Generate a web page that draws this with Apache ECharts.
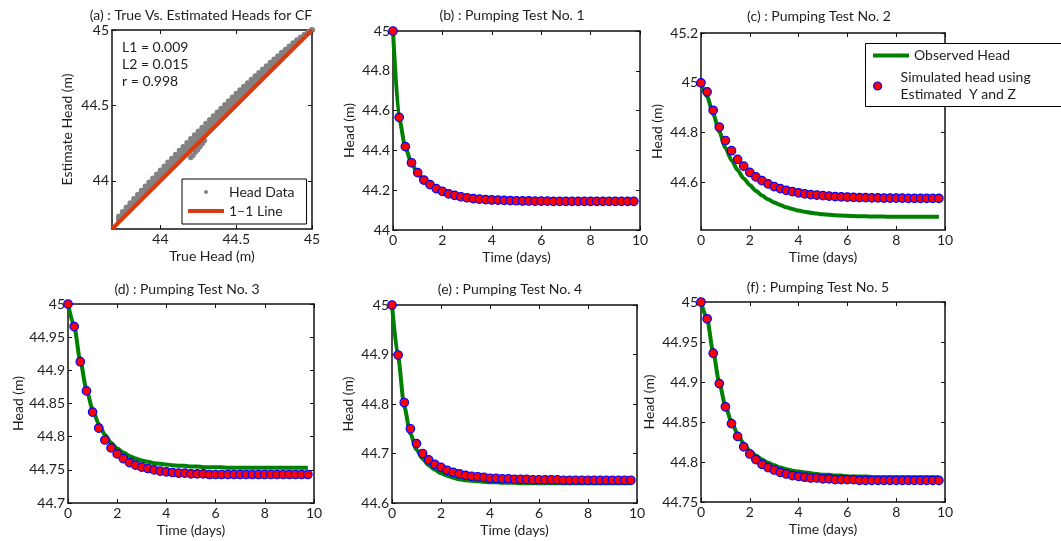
<!DOCTYPE html>
<html><head><meta charset="utf-8">
<script src="https://cdn.jsdelivr.net/npm/echarts@6/dist/echarts.min.js"></script>
<style>html,body{margin:0;padding:0;background:#fff}#c{width:1061px;height:541px}</style>
</head><body><div id="c"></div>
<script>
// ---------- data ----------
const timeDays = [0,0.25,0.5,0.75,1,1.25,1.5,1.75,2,2.25,2.5,2.75,3,3.25,3.5,3.75,4,4.25,4.5,4.75,
                  5,5.25,5.5,5.75,6,6.25,6.5,6.75,7,7.25,7.5,7.75,8,8.25,8.5,8.75,9,9.25,9.5,9.75];
const timeTicks = [0,2,4,6,8,10];

const test1Observed = [45.0,44.56,44.415,44.335,44.285,44.249,44.225,44.206,44.192,44.18,
  44.172,44.165,44.16,44.156,44.153,44.151,44.149,44.148,44.147,44.146,
  44.145,44.145,44.144,44.144,44.143,44.143,44.143,44.143,44.143,44.143,
  44.143,44.143,44.143,44.143,44.143,44.143,44.143,44.143,44.143,44.143];
const test1Simulated = [45.0,44.566,44.419,44.338,44.288,44.251,44.228,44.208,44.194,44.182,
  44.174,44.167,44.162,44.158,44.155,44.153,44.151,44.15,44.149,44.148,
  44.147,44.146,44.146,44.145,44.145,44.145,44.144,44.144,44.144,44.144,
  44.144,44.144,44.144,44.144,44.144,44.144,44.144,44.144,44.144,44.144];

const test2Observed = [45.0,44.945,44.875,44.805,44.74,44.69,44.65,44.617,44.59,44.567,
  44.548,44.533,44.52,44.51,44.501,44.494,44.488,44.483,44.479,44.476,
  44.473,44.471,44.469,44.468,44.467,44.466,44.465,44.465,44.464,44.464,
  44.464,44.463,44.463,44.463,44.463,44.463,44.463,44.463,44.463,44.463];
const test2Simulated = [45.0,44.964,44.89,44.823,44.769,44.728,44.693,44.666,44.641,44.623,
  44.608,44.595,44.584,44.576,44.569,44.564,44.559,44.555,44.552,44.55,
  44.548,44.546,44.544,44.543,44.542,44.541,44.54,44.54,44.539,44.539,
  44.538,44.538,44.538,44.538,44.537,44.537,44.537,44.537,44.537,44.537];

const test3Observed = [45.0,44.967,44.914,44.871,44.841,44.819,44.803,44.791,44.782,44.776,
  44.771,44.767,44.764,44.762,44.76,44.759,44.758,44.757,44.756,44.756,
  44.755,44.755,44.754,44.754,44.754,44.754,44.753,44.753,44.753,44.753,
  44.753,44.753,44.753,44.753,44.753,44.753,44.753,44.753,44.753,44.753];
const test3Simulated = [45.0,44.966,44.913,44.869,44.837,44.813,44.795,44.783,44.774,44.767,
  44.761,44.757,44.754,44.752,44.75,44.748,44.747,44.746,44.745,44.745,
  44.744,44.744,44.744,44.743,44.743,44.743,44.743,44.743,44.743,44.743,
  44.743,44.743,44.743,44.743,44.743,44.743,44.743,44.743,44.743,44.743];

const test4Observed = [45.0,44.895,44.795,44.74,44.708,44.689,44.676,44.667,44.66,44.655,
  44.651,44.648,44.646,44.645,44.644,44.643,44.642,44.642,44.641,44.641,
  44.641,44.64,44.64,44.64,44.64,44.64,44.64,44.64,44.64,44.64,
  44.64,44.64,44.64,44.64,44.64,44.64,44.64,44.64,44.64,44.64];
const test4Simulated = [45.0,44.899,44.803,44.75,44.72,44.70,44.687,44.678,44.672,44.666,
  44.662,44.659,44.656,44.654,44.653,44.652,44.65,44.65,44.649,44.649,
  44.648,44.648,44.648,44.647,44.647,44.647,44.647,44.647,44.646,44.646,
  44.646,44.646,44.646,44.646,44.646,44.646,44.646,44.646,44.646,44.646];

const test5Observed = [45.0,44.979,44.937,44.899,44.87,44.85,44.835,44.823,44.814,44.808,
  44.803,44.799,44.796,44.793,44.791,44.789,44.788,44.787,44.786,44.785,
  44.784,44.784,44.783,44.783,44.782,44.782,44.782,44.782,44.781,44.781,
  44.781,44.781,44.781,44.781,44.781,44.781,44.781,44.781,44.781,44.781];
const test5Simulated = [45.0,44.979,44.936,44.898,44.869,44.848,44.832,44.819,44.81,44.803,
  44.797,44.793,44.79,44.787,44.785,44.783,44.782,44.781,44.78,44.78,
  44.779,44.779,44.778,44.778,44.778,44.778,44.777,44.777,44.777,44.777,
  44.777,44.777,44.777,44.777,44.777,44.777,44.777,44.777,44.777,44.777];

// panel (a): true vs estimated heads (band of points)
const headTrue = [43.725,43.75,43.775,43.8,43.825,43.85,43.875,43.9,43.925,43.95,43.975,
  44.0,44.025,44.05,44.075,44.1,44.125,44.15,44.175,44.2,44.225,44.25,44.275,44.3,44.325,
  44.35,44.375,44.4,44.425,44.45,44.475,44.5,44.525,44.55,44.575,44.6,44.625,44.65,44.675,
  44.7,44.725,44.75,44.775,44.8,44.825,44.85,44.875,44.9,44.925,44.95,44.975,45.0];
const headEstUpper = [43.765,43.795,43.825,43.853,43.881,43.909,43.936,43.963,43.99,44.016,44.043,
  44.07,44.096,44.122,44.148,44.174,44.2,44.226,44.252,44.278,44.303,44.329,44.354,44.38,44.405,
  44.43,44.455,44.48,44.505,44.529,44.554,44.578,44.602,44.626,44.649,44.672,44.695,44.717,44.739,
  44.762,44.784,44.806,44.828,44.85,44.871,44.892,44.913,44.933,44.952,44.97,44.986,45.0];
const headEstMid = [43.751,43.78,43.808,43.835,43.862,43.889,43.915,43.942,43.968,43.994,44.02,
  44.046,44.072,44.098,44.123,44.149,44.175,44.2,44.226,44.251,44.276,44.302,44.327,44.353,44.378,
  44.403,44.428,44.453,44.478,44.502,44.527,44.551,44.576,44.6,44.624,44.648,44.671,44.694,44.717,
  44.741,44.764,44.787,44.81,44.833,44.855,44.878,44.9,44.922,44.943,44.963,44.982,45.0];
const headEstLow = [43.738,43.765,43.792,43.817,43.843,43.869,43.895,43.921,43.946,43.972,43.997,
  44.023,44.048,44.074,44.099,44.124,44.15,44.175,44.2,44.226,44.251,44.276,44.301,44.326,44.351,
  44.376,44.401,44.426,44.451,44.476,44.501,44.526,44.55,44.575,44.599,44.624,44.648,44.672,44.696,
  44.72,44.744,44.768,44.792,44.817,44.84,44.864,44.888,44.911,44.934,44.957,44.979,45.0];
const branchTrue = [44.2,44.215,44.23,44.245,44.26,44.275,44.29];
const branchEst  = [44.155,44.17,44.19,44.205,44.225,44.245,44.265];
const oneToOneLine = [43.68, 45];
const headTicks = [44, 44.5, 45];
const statsText = ['L1 = 0.009', 'L2 = 0.015', 'r = 0.998'];

const titles = ['(a) : True Vs. Estimated Heads for CF','(b) : Pumping Test No. 1','(c) : Pumping Test No. 2',
                '(d) : Pumping Test No. 3','(e) : Pumping Test No. 4','(f) : Pumping Test No. 5'];
const OBS = 'Observed Head';
const SIM = 'Simulated head using\nEstimated  Y and Z';

// ---------- layout / styling ----------
const FONT = 'Lato, "Open Sans", sans-serif';
const TXT = '#1e1e1e';
const LINE = '#111';
const FS = 14;
const panels = [
  {grid:{left:112, top:30, width:200, height:199}, title:[201,15]},
  {grid:{left:393, top:31, width:247, height:199}, title:[512,15], y:[44,45,0.2], obs:test1Observed, sim:test1Simulated, gap:37},
  {grid:{left:701, top:33, width:244, height:197}, title:[819,16], y:[44.41,45.2], yCustom:[44.6,44.8,45,45.2], obs:test2Observed, sim:test2Simulated, gap:37},
  {grid:{left:68, top:304, width:246, height:199}, title:[187,289], y:[44.7,45,0.05], obs:test3Observed, sim:test3Simulated, gap:43},
  {grid:{left:392, top:305, width:245, height:198}, title:[510,289], y:[44.6,45,0.1], obs:test4Observed, sim:test4Simulated, gap:37},
  {grid:{left:701, top:302, width:244, height:200}, title:[818,287], y:[44.75,45,0.05], obs:test5Observed, sim:test5Simulated, gap:45}
];

function axisBase(gridIndex, position, showLabel) {
  return {
    type:'value', gridIndex, position,
    axisLine:{show:true, onZero:false, lineStyle:{color:LINE, width:1.5}},
    axisTick:{show:true, inside:true, length:4, lineStyle:{color:LINE, width:1}},
    splitLine:{show:false},
    axisLabel:{show:showLabel, color:TXT, fontFamily:FONT, fontSize:FS, margin:3},
    nameTextStyle:{color:TXT, fontFamily:FONT, fontSize:FS},
    nameLocation:'middle'
  };
}

const grids = [], xAxes = [], yAxes = [], series = [], graphics = [];
panels.forEach((p, i) => {
  grids.push(Object.assign({containLabel:false}, p.grid));
  const xb = axisBase(i, 'bottom', true), xt = axisBase(i, 'top', false);
  const yl = axisBase(i, 'left', true), yr = axisBase(i, 'right', false);
  if (i === 0) {
    [xb, xt, yl, yr].forEach(a => {
      a.min = oneToOneLine[0]; a.max = oneToOneLine[1];
      a.axisLabel.customValues = headTicks; a.axisTick.customValues = headTicks;
    });
    xb.name = 'True Head (m)'; xb.nameGap = 20;
    yl.name = 'Estimate Head (m)'; yl.nameGap = 38;
  } else {
    [xb, xt].forEach(a => { a.min = 0; a.max = 10; a.interval = 2; });
    [yl, yr].forEach(a => {
      a.min = p.y[0]; a.max = p.y[1];
      if (p.yCustom) { a.axisLabel.customValues = p.yCustom; a.axisTick.customValues = p.yCustom; }
      else a.interval = p.y[2];
    });
    xb.name = 'Time (days)'; xb.nameGap = 20;
    yl.name = 'Head (m)'; yl.nameGap = p.gap;
  }
  xAxes.push(xb, xt); yAxes.push(yl, yr);
  graphics.push({type:'text', x:p.title[0], y:p.title[1], z:30,
    style:{text:titles[i], align:'center', verticalAlign:'middle', font:'14px ' + FONT, fill:TXT}});
  if (i > 0) {
    series.push({type:'line', name:OBS, xAxisIndex:2*i, yAxisIndex:2*i, symbol:'none', smooth:0.25, smoothMonotone:'x',
      color:'#008000', lineStyle:{color:'#008000', width:4}, z:2, silent:true,
      data: timeDays.map((t, k) => [t, p.obs[k]])});
    series.push({type:'scatter', name:SIM, xAxisIndex:2*i, yAxisIndex:2*i, symbol:'circle', symbolSize:8.5, z:3,
      itemStyle:{color:'#ff0000', borderColor:'#0000ff', borderWidth:1.2, opacity:1}, silent:true,
      data: timeDays.map((t, k) => [t, p.sim[k]])});
  }
});

const headPairs = [];
[headEstUpper, headEstMid, headEstLow].forEach(row => headTrue.forEach((t, k) => headPairs.push([t, row[k]])));
branchTrue.forEach((t, k) => headPairs.push([t, branchEst[k]]));
series.push({type:'scatter', name:'Head Data', xAxisIndex:0, yAxisIndex:0, symbol:'circle', symbolSize:5.5,
  itemStyle:{color:'#828282', opacity:1}, z:2, silent:true, data:headPairs});
series.push({type:'line', name:'1–1 Line', xAxisIndex:0, yAxisIndex:0, symbol:'none', color:'#d83a12',
  lineStyle:{color:'#d83a12', width:4}, z:3, silent:true,
  data: [[oneToOneLine[0], oneToOneLine[0]], [oneToOneLine[1], oneToOneLine[1]]]});

statsText.forEach((s, k) => graphics.push({type:'text', x:122, y:47 + k * 17, z:30,
  style:{text:s, align:'left', verticalAlign:'middle', font:'14px ' + FONT, fill:TXT}}));
// box for legend of panel (c)
graphics.push({type:'rect', z:15, shape:{x:865.5, y:43.5, width:220, height:63},
  style:{fill:'#fff', stroke:'#000', lineWidth:1}});

const legTxt = {color:TXT, fontFamily:FONT, fontSize:FS, lineHeight:17};
const legends = [
  {left:182, top:179, orient:'vertical', z:20, selectedMode:false, itemWidth:36, itemHeight:4, itemGap:3,
   padding:[5,12,5,6], borderColor:'#000', borderWidth:1, backgroundColor:'#fff',
   textStyle:Object.assign({}, legTxt, {lineHeight:16}),
   data:[{name:'Head Data', icon:'circle', itemStyle:{color:'#808080', borderWidth:0}},
         {name:'1–1 Line', icon:'rect', itemStyle:{color:'#d83a12', borderWidth:0}}]},
  {left:873, top:47, orient:'vertical', z:20, selectedMode:false, itemWidth:36, itemHeight:4, padding:0,
   textStyle:legTxt, data:[{name:OBS, icon:'rect', itemStyle:{color:'#008000', borderWidth:0}}]},
  {left:873, top:69, orient:'vertical', z:20, selectedMode:false, itemWidth:36, itemHeight:8, padding:0,
   textStyle:legTxt, data:[{name:SIM, icon:'circle', itemStyle:{color:'#ff0000', borderColor:'#0000ff', borderWidth:1.2}}]}
];

const chart = echarts.init(document.getElementById('c'), null, {renderer:'canvas'});
chart.setOption({
  animation:false, backgroundColor:'#fff',
  grid:grids, xAxis:xAxes, yAxis:yAxes, series, legend:legends, graphic:graphics
});
</script></body></html>
